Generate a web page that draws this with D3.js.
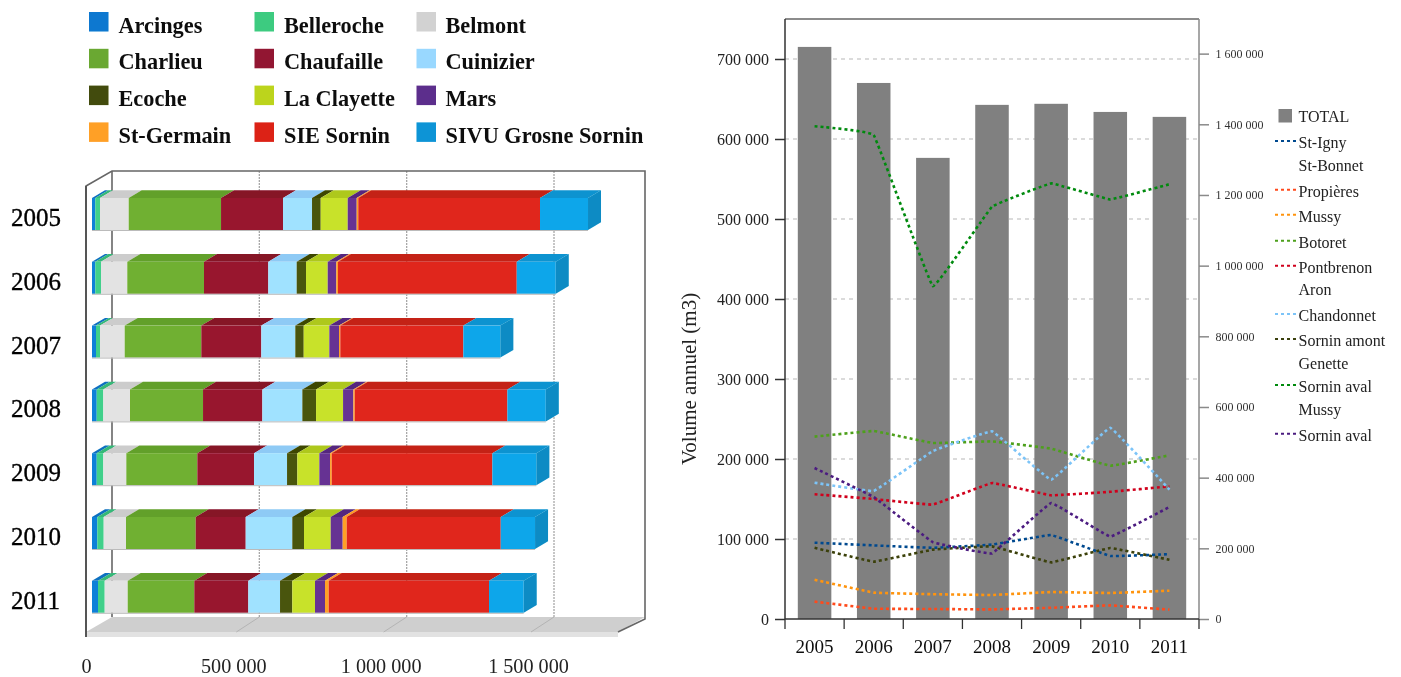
<!DOCTYPE html>
<html><head><meta charset="utf-8">
<script src="https://cdn.jsdelivr.net/npm/d3@7/dist/d3.min.js"></script>
<style>html,body{margin:0;padding:0;background:#fff;overflow:hidden}svg{display:block}text{font-family:"Liberation Serif",serif}</style>
</head><body><svg id="c" width="1401" height="677"></svg>
<script>
// ---------- shared ----------
const years = ["2005","2006","2007","2008","2009","2010","2011"];
// ---------- left chart data ----------
const communes = ["Arcinges","Belleroche","Belmont","Charlieu","Chaufaille","Cuinizier","Ecoche","La Clayette","Mars","St-Germain","SIE Sornin","SIVU Grosne Sornin"];
const arcinges   = [11200,11200,13600,16000,16000,18000,20400];
const belleroche = [16000,19300,13600,22400,22400,21700,22700];
const belmont    = [97400,89300,83800,90600,78100,75700,78100];
const charlieu   = [313300,260300,260000,247800,241000,236500,226000];
const chaufaille = [210400,218200,203600,201300,192400,169700,183300];
const cuinizier  = [98400,96400,115400,135800,112000,158200,107600];
const ecoche     = [29500,31600,28500,46500,35000,39700,41700];
const laClayette = [91600,73600,86900,91600,74700,90600,77000];
const mars       = [30500,29200,32900,35000,36300,40700,33900];
const stGermain  = [5400,5800,4400,4800,5800,13600,12600];
const sieSornin  = [616700,606500,417500,517900,545000,522700,544000];
const sivu       = [162900,132400,125600,130300,149300,116400,117800];
const stackValues = [arcinges,belleroche,belmont,charlieu,chaufaille,cuinizier,ecoche,laClayette,mars,stGermain,sieSornin,sivu];
const frontColors = ["#0a80d8","#3fd08a","#e3e3e3","#70b030","#98142f","#a0e2ff","#4a5408","#c8e22a","#663393","#ffa028","#e0251a","#0ca6ea"];
const topColors   = ["#0a70c0","#35b878","#cccccc","#62a02a","#861228","#8ecaf5","#3e4706","#aec81f","#55287e","#ff9a20","#c42015","#0a93d0"];
const swatchColors= ["#0a78d0","#3ccb80","#d2d2d2","#6aa832","#921530","#99d8ff","#424c08","#bcd41f","#5c2e8c","#ffa028","#dc2216","#0a94d6"];
const stackTicks = [0,500000,1000000,1500000];
// ---------- right chart data ----------
const totals = [1619000,1517000,1305000,1455000,1458000,1435000,1421000];
const stIgny      = [95400,92000,89000,93000,105000,78800,81000];
const propieres   = [21700,12900,12500,12000,14000,17000,11700];
const mussy       = [49000,33000,31000,30000,33700,32500,35400];
const botoret     = [228000,235000,220000,222000,213000,191600,204600];
const pontbrenon  = [156000,150000,143000,170000,154600,159000,165800];
const chandonnet  = [170400,160000,210000,234600,174000,239000,161700];
const sorninAmont = [89000,71700,86700,90800,70800,88700,74000];
const sorninMussy = [616000,605000,416000,515400,544500,524500,543500];
const sorninAval  = [188700,152500,96000,82000,145000,103000,140000];
const lineValues = [stIgny,propieres,mussy,botoret,pontbrenon,chandonnet,sorninAmont,sorninMussy,sorninAval];
const lineLabels = [["St-Igny","St-Bonnet"],["Propières"],["Mussy"],["Botoret"],["Pontbrenon","Aron"],["Chandonnet"],["Sornin amont","Genette"],["Sornin aval","Mussy"],["Sornin aval"]];
const lineColors = ["#004a8f","#ff4a1a","#ff9410","#4ea01c","#d0001c","#7cc4f8","#3b4008","#008a10","#4b1a80"];
const leftTicks = [0,100000,200000,300000,400000,500000,600000,700000];
const rightTicks = [0,200000,400000,600000,800000,1000000,1200000,1400000,1600000];

const fmt = d3.formatLocale({thousands:"\u00a0",grouping:[3],decimal:",",currency:["",""]}).format(",");
const svg = d3.select("#c");
const defs = svg.append("defs");
defs.append("filter").attr("id","soft")
  .attr("filterUnits","userSpaceOnUse").attr("x",0).attr("y",0).attr("width",670).attr("height",677)
  .append("feGaussianBlur").attr("stdDeviation",0.55);
defs.append("filter").attr("id","softR")
  .attr("filterUnits","userSpaceOnUse").attr("x",670).attr("y",0).attr("width",731).attr("height",677)
  .append("feGaussianBlur").attr("stdDeviation",0.3);

// ========== LEFT: pseudo 3D stacked bars ==========
const L = svg.append("g").attr("filter","url(#soft)");
const xs = d3.scaleLinear().domain([0,1500000]).range([92,534]);
const ys = d3.scalePoint().domain(years).range([198,580.8]);
const barH = 32, dx = 13, dy = 7.7;
const wallOff = 20, floorBack = 617, floorFront = 632, floorBottom = 637, wallTop = 171;
const backX = v => xs(v) + wallOff;

// legend
const leg = L.append("g").selectAll("g").data(communes).join("g")
  .attr("transform",(d,i)=>`translate(${[89,254.5,416.5][i%3]},${12+36.8*Math.floor(i/3)})`);
leg.append("rect").attr("width",19.5).attr("height",19.5).attr("fill",(d,i)=>swatchColors[i]);
leg.append("text").attr("x",(d,i)=>[29.5,29.5,29][i%3]).attr("y",20.5).attr("font-size",22.3).attr("font-weight","bold").attr("fill","#111").text(d=>d);

// floor
L.append("path").attr("d",`M${xs(0)-6},${floorFront}L${backX(0)},${floorBack}L645,${floorBack}L618,${floorFront}Z`).attr("fill","#cfcfcf");
L.append("rect").attr("x",xs(0)-6).attr("y",floorFront).attr("width",618-xs(0)+6).attr("height",floorBottom-floorFront).attr("fill","#e2e2e2");
L.selectAll(".fg").data(stackTicks.slice(1)).join("line").attr("class","fg")
  .attr("x1",backX).attr("x2",d=>backX(d)-23).attr("y1",floorBack).attr("y2",floorFront).attr("stroke","#b4b4b4");
// back wall grid
L.selectAll(".bg").data(stackTicks.slice(1)).join("line").attr("class","bg")
  .attr("x1",backX).attr("x2",backX).attr("y1",wallTop).attr("y2",floorBack)
  .attr("stroke","#a8a8a8").attr("stroke-width",1.3).attr("stroke-dasharray","2 1");
// walls
L.append("path").attr("d",`M${xs(0)-6},${floorBottom}V186L${backX(0)},${wallTop}H645V${floorBack+2}L618,${floorFront}`).attr("fill","none").attr("stroke","#666").attr("stroke-width",1.6);
L.append("line").attr("x1",backX(0)).attr("x2",backX(0)).attr("y1",wallTop).attr("y2",floorBack).attr("stroke","#666").attr("stroke-width",1.6);
L.append("line").attr("x1",xs(0)-6).attr("x2",xs(0)-6).attr("y1",186).attr("y2",floorBottom).attr("stroke","#555").attr("stroke-width",2);

// stacked bars
const table = years.map((y,i)=>{const o={year:y};communes.forEach((c,k)=>o[c]=stackValues[k][i]);return o;});
const series = d3.stack().keys(communes)(table);
const rows = L.append("g");
series.forEach((s,k)=>{
  const g = rows.append("g");
  g.selectAll("path").data(s).join("path")
    .attr("d",d=>{const a=xs(d[0]),b=xs(d[1]),t=ys(d.data.year);return `M${a},${t}L${b},${t}L${b+dx},${t-dy}L${a+dx},${t-dy}Z`;})
    .attr("fill",topColors[k]);
  g.selectAll("rect").data(s).join("rect")
    .attr("x",d=>xs(d[0])).attr("y",d=>ys(d.data.year)).attr("width",d=>xs(d[1])-xs(d[0])).attr("height",barH)
    .attr("fill",frontColors[k]);
});
const lastSeries = series[series.length-1];
rows.append("g").selectAll("path").data(lastSeries).join("path")
  .attr("d",d=>{const b=xs(d[1]),t=ys(d.data.year);return `M${b},${t}L${b+dx},${t-dy}V${t-dy+barH}L${b},${t+barH}Z`;})
  .attr("fill","#088bc4");
rows.append("g").selectAll("line").data(lastSeries).join("line")
  .attr("x1",xs(0)).attr("x2",d=>xs(d[1])).attr("y1",d=>ys(d.data.year)+barH+.5).attr("y2",d=>ys(d.data.year)+barH+.5)
  .attr("stroke","#bbb");
// year labels
L.append("g").selectAll("text").data(years).join("text")
  .attr("x",11).attr("y",d=>ys(d)+barH/2+12).attr("font-size",25).attr("fill","#000").attr("stroke","#000").attr("stroke-width",.35).text(d=>d);
// value labels
L.append("g").selectAll("text").data(stackTicks).join("text")
  .attr("x",d=>xs(d)-5.5).attr("y",673).attr("text-anchor","middle").attr("font-size",20.2).attr("fill","#222").text(fmt);

// ========== RIGHT: bars + dashed lines ==========
const R = svg.append("g").attr("filter","url(#softR)");
const frameTop = 19, bot = 619, lx = 785, rx = 1199;
const xB = d3.scaleBand().domain(years).range([lx,rx]).paddingInner(0.433).paddingOuter(0.2165);
const yL = d3.scaleLinear().domain([0,750000]).range([bot,frameTop]);
const yT = d3.scaleLinear().domain([0,1698000]).range([bot,frameTop]);
const cx = y => xB(y)+xB.bandwidth()/2;

R.append("g").selectAll("line").data(leftTicks.slice(1)).join("line")
  .attr("x1",lx).attr("x2",rx).attr("y1",yL).attr("y2",yL)
  .attr("stroke","#cfcfcf").attr("stroke-width",1.5).attr("stroke-dasharray","4 4");
R.append("g").selectAll("rect").data(totals).join("rect")
  .attr("x",(d,i)=>xB(years[i])).attr("width",xB.bandwidth()).attr("y",yT).attr("height",d=>bot-yT(d)).attr("fill","#808080");

const lineGen = d3.line().x((d,i)=>cx(years[i])).y(d=>yL(d)).curve(d3.curveCardinal.tension(0.85));
R.append("g").selectAll("path").data(lineValues).join("path")
  .attr("d",lineGen).attr("fill","none").attr("stroke",(d,i)=>lineColors[i]).attr("stroke-width",2.6).attr("stroke-dasharray","3 3");

// frame
R.append("line").attr("x1",lx).attr("x2",rx).attr("y1",frameTop).attr("y2",frameTop).attr("stroke","#666").attr("stroke-width",1.3);
R.append("line").attr("x1",rx).attr("x2",rx).attr("y1",frameTop).attr("y2",bot).attr("stroke","#8a8a8a").attr("stroke-width",1.5);
R.append("line").attr("x1",lx).attr("x2",lx).attr("y1",frameTop).attr("y2",bot).attr("stroke","#333").attr("stroke-width",1.5);
R.append("line").attr("x1",lx).attr("x2",rx).attr("y1",bot).attr("y2",bot).attr("stroke","#333").attr("stroke-width",1.5);

// axes
const aL = R.append("g").attr("transform",`translate(${lx},0)`).call(d3.axisLeft(yL).tickValues(leftTicks).tickSize(10).tickPadding(6).tickFormat(fmt));
aL.select(".domain").remove();
aL.selectAll("line").attr("stroke","#333").attr("stroke-width",1.5);
aL.selectAll("text").attr("font-size",16).attr("font-family","Liberation Serif").attr("fill","#222");
const aR = R.append("g").attr("transform",`translate(${rx},0)`).call(d3.axisRight(yT).tickValues(rightTicks).tickSize(10).tickPadding(6.5).tickFormat(fmt));
aR.select(".domain").remove();
aR.selectAll("line").attr("stroke","#8a8a8a").attr("stroke-width",1.5);
aR.selectAll("text").attr("font-size",12).attr("font-family","Liberation Serif").attr("fill","#333");
const aB = R.append("g").attr("transform",`translate(0,${bot})`).call(d3.axisBottom(xB).tickSize(0).tickPadding(21));
aB.select(".domain").remove();
aB.selectAll("line").remove();
aB.selectAll("text").attr("font-size",19).attr("font-family","Liberation Serif").attr("fill","#111");
const step = xB.step();
R.append("g").selectAll("line").data(d3.range(years.length+1)).join("line")
  .attr("x1",i=>lx+i*step).attr("x2",i=>lx+i*step).attr("y1",bot).attr("y2",bot+10).attr("stroke","#333").attr("stroke-width",1.3);

R.append("text").attr("transform","translate(696,379) rotate(-90)").attr("text-anchor","middle")
  .attr("font-size",21).attr("fill","#222").text("Volume annuel (m3)");

// legend
const lg = R.append("g");
lg.append("rect").attr("x",1278.5).attr("y",109).attr("width",13.5).attr("height",13.5).attr("fill","#808080");
lg.append("text").attr("x",1298.5).attr("y",122).attr("font-size",16).attr("fill","#222").text("TOTAL");
const legY = [143,191.7,216.7,242.7,267.7,316,341,387,435.7];
lineLabels.forEach((lab,i)=>{
  lg.append("line").attr("x1",1275).attr("x2",1296).attr("y1",legY[i]-2).attr("y2",legY[i]-2)
    .attr("stroke",lineColors[i]).attr("stroke-width",2).attr("stroke-dasharray","3 3");
  lab.forEach((t,j)=>lg.append("text").attr("x",1298.5).attr("y",legY[i]+5+j*22.5).attr("font-size",16).attr("fill","#222").text(t));
});
</script></body></html>
